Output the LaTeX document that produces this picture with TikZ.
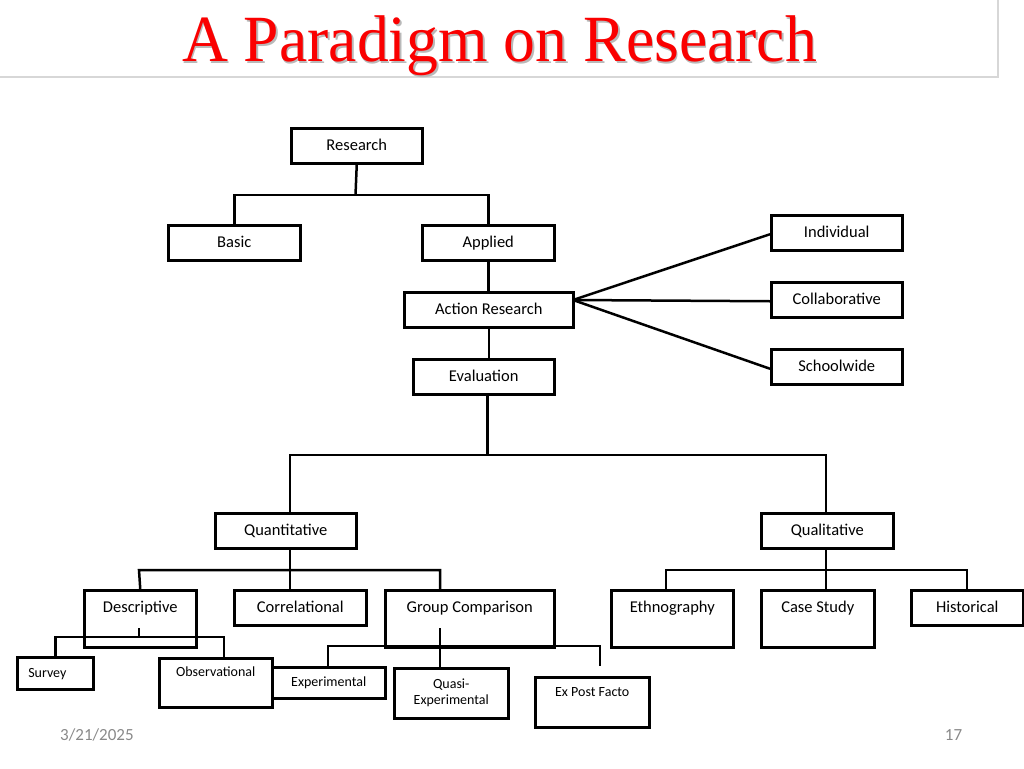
\documentclass[tikz,border=0pt]{standalone}
\usepackage{fontspec}
\setmainfont{Carlito}
\newfontfamily\titlefont{Liberation Serif}
\definecolor{footgray}{RGB}{137,137,137}
\definecolor{rulegray}{RGB}{215,215,215}
\definecolor{titlered}{RGB}{250,0,0}
\definecolor{shadowgray}{RGB}{185,185,185}
\begin{document}
\begin{tikzpicture}[x=1pt,y=-1pt,
  box/.style={draw=black, line width=2.5pt, inner sep=0pt, anchor=north west,
    font=\fontsize{16.5}{19}\selectfont, text height=22pt, text depth=13pt},
  tallbox/.style={box, text depth=35pt},
  sbox/.style={draw=black, line width=2.5pt, inner sep=0pt, anchor=north west,
    font=\fontsize{14}{17}\selectfont},
  conn/.style={line width=2.5pt},
]
\useasboundingbox (0,0) rectangle (1024,768);
% title area
\draw[rulegray, line width=2pt] (0,76.5) -- (998,76.5) -- (998,0);
\node[font=\titlefont\fontsize{66}{70}\selectfont, text=shadowgray, anchor=base, xscale=0.965] (titleshadow) at (501,63.5) {A Paradigm on Research};
\node[font=\titlefont\fontsize{66}{70}\selectfont, text=titlered, anchor=base, xscale=0.965] (title) at (499.5,62) {A Paradigm on Research};

% boxes
\node[box, minimum width=131pt] (research) at (290,127) {Research};
\node[box, minimum width=132pt] (basic) at (167,224) {Basic};
\node[box, minimum width=132pt] (applied) at (421,224) {Applied};
\node[box, minimum width=169pt] (action) at (403,291) {Action Research};
\node[box, minimum width=141pt] (eval) at (412,358) {Evaluation};
\node[box, minimum width=131pt] (indiv) at (770,214) {Individual};
\node[box, minimum width=131pt] (collab) at (770,281) {Collaborative};
\node[box, minimum width=131pt] (school) at (770,348) {Schoolwide};
\node[box, minimum width=141pt] (quant) at (214,512) {Quantitative};
\node[box, minimum width=132pt] (qual) at (760,512) {Qualitative};
\node[tallbox, minimum width=112pt] (desc) at (83,589) {Descriptive};
\node[box, minimum width=132pt] (corr) at (233,589) {Correlational};
\node[tallbox, minimum width=169pt] (group) at (384,589) {Group Comparison};
\node[tallbox, minimum width=122pt] (ethno) at (610,589) {Ethnography};
\node[tallbox, minimum width=113pt] (case) at (760,589) {Case Study};
\node[box, minimum width=112pt] (hist) at (910,589) {Historical};
\node[sbox, text width=54pt, inner xsep=11pt, align=left, text height=20pt, text depth=12pt] (survey) at (16,656) {Survey};
\node[sbox, minimum width=113pt, text height=18pt, text depth=31pt] (obs) at (158,657) {Observational};
\node[sbox, minimum width=113pt, text height=19pt, text depth=12pt] (exper) at (271,666) {Experimental};
\node[sbox, minimum width=114pt, minimum height=50pt, align=center] (quasi) at (393,667) {Quasi-\\[-1pt]Experimental};
\node[sbox, minimum width=114pt, text height=19pt, text depth=31pt] (expost) at (534,676) {Ex Post Facto};

% junction coordinates
\coordinate (r1) at (355.5,195);
\coordinate (ac) at (573,300);
\coordinate (e1) at (487.5,455);
\coordinate (eq) at (290,455);
\coordinate (el) at (826,455);
\coordinate (q1) at (290,570);
\coordinate (qa) at (139,570);
\coordinate (qc) at (440,570);
\coordinate (ds) at (139,628);
\coordinate (dj) at (139,637);
\coordinate (do) at (224,637);
\coordinate (gs) at (440,628);
\coordinate (ge) at (328,646);
\coordinate (gx) at (600,646);
\coordinate (gxe) at (600,666);
\coordinate (l1) at (826,570);
\coordinate (la) at (666,570);
\coordinate (lc) at (967,570);

% connectors
\draw[conn] (research.south) -- (r1);
\draw[conn] (basic.north) |- (r1) -| (applied.north);
\draw[conn] (applied.south) -- (applied.south |- action.north);
\draw[conn] (action.south) -- (action.south |- eval.north);
\draw[conn] (ac) -- ([yshift=-1.5pt]indiv.west);
\draw[conn] (ac) -- ([yshift=-1.5pt]collab.west);
\draw[conn] (ac) -- ([yshift=-2pt]school.west);
\draw[conn] (e1 |- eval.south) -- (e1);
\draw[conn] (eq |- quant.north) -- (eq) -- (el) -- (el |- qual.north);
\draw[conn] (q1 |- quant.south) -- (q1 |- corr.north);
\draw[conn] (desc.north) -- (qa) -- (qc) -- (qc |- group.north);
\draw[conn] (ds) -- (dj);
\draw[conn] (survey.north) |- (do) -- (do |- obs.north);
\draw[conn] (gs) -- (gs |- quasi.north);
\draw[conn] (ge |- exper.north) -- (ge) -- (gx) -- (gxe);
\draw[conn] (l1 |- qual.south) -- (l1 |- case.north);
\draw[conn] (la |- ethno.north) -- (la) -- (lc) -- (lc |- hist.north);

% footer
\node[font=\fontsize{17}{19}\selectfont, text=footgray, anchor=base west, inner sep=0pt] (date) at (60,740) {3/21/2025};
\node[font=\fontsize{17}{19}\selectfont, text=footgray, anchor=base, inner sep=0pt] (pagenum) at (953.5,740) {17};
\end{tikzpicture}
\end{document}
